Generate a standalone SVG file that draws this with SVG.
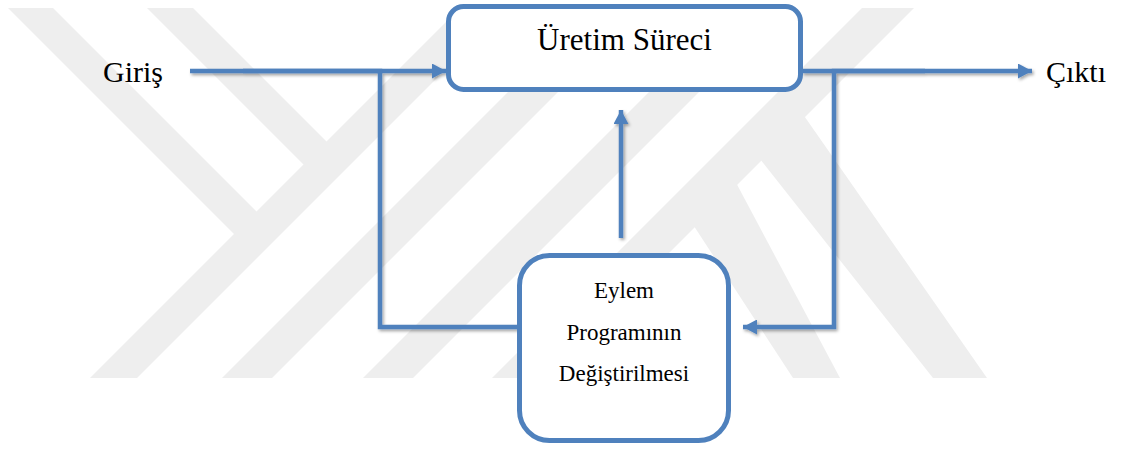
<svg xmlns="http://www.w3.org/2000/svg" width="1123" height="452" viewBox="0 0 1123 452">
  <style>
    .wm { fill: #eeeeee; }
    .box { fill: #ffffff; stroke: #4f81bd; stroke-width: 5; }
    .conn { fill: none; stroke: #4f81bd; stroke-width: 4.5; stroke-linejoin: miter; }
    .lbl { font-family: "Liberation Serif", "Times New Roman", serif; fill: #000000; }
  </style>
  <defs>
    <filter id="shadow" x="-5%" y="-5%" width="110%" height="110%">
      <feDropShadow dx="1.5" dy="2" stdDeviation="1.4" flood-color="#000000" flood-opacity="0.35"/>
    </filter>
    <marker id="arrow" viewBox="0 0 14 15" refX="14" refY="7.5" markerWidth="14" markerHeight="15" markerUnits="userSpaceOnUse" orient="auto">
      <path d="M0,0 L14,7.5 L0,15 Z" fill="#4f81bd"/>
    </marker>
  </defs>
  <rect x="0" y="0" width="1123" height="452" fill="#ffffff"/>
  <g id="watermark">
    <polygon class="wm" points="8,8 53,8 270,225 245,245"/>
    <polygon class="wm" points="147,8 193,8 337.5,152.5 314.5,175.5"/>
    <polygon class="wm" points="460,8 507,8 137,378 90,378"/>
    <polygon class="wm" points="592,8 642,8 272,378 222,378"/>
    <polygon class="wm" points="733,8 783,8 413,378 363,378"/>
    <polygon class="wm" points="862,8 914,8 544,378 492,378"/>
    <polygon class="wm" points="690,220 733,177 840,378 793,378"/>
    <polygon class="wm" points="756,154 800,110 987,378 933,378"/>
  </g>
  <g id="connectors" filter="url(#shadow)">
    <path class="conn" d="M190,71 H446" marker-end="url(#arrow)"/>
    <path class="conn" d="M243,71 H380 V327 H518"/>
    <path class="conn" d="M621,238 V110" marker-end="url(#arrow)"/>
    <path class="conn" d="M802,71 H1032" marker-end="url(#arrow)"/>
    <path class="conn" d="M925,71 H834 V327 H743" marker-end="url(#arrow)"/>
  </g>
  <g id="node-uretim">
    <rect class="box" x="448.5" y="6.5" width="352" height="83" rx="15" ry="15"/>
    <text class="lbl" x="624.5" y="50" font-size="31" text-anchor="middle">Üretim Süreci</text>
  </g>
  <g id="node-eylem">
    <rect class="box" x="519.5" y="255.5" width="209" height="185" rx="30" ry="30"/>
    <text class="lbl" x="624" y="298" font-size="23" text-anchor="middle">Eylem</text>
    <text class="lbl" x="624" y="340" font-size="23" text-anchor="middle">Programının</text>
    <text class="lbl" x="624" y="381" font-size="23" text-anchor="middle">Değiştirilmesi</text>
  </g>
  <g id="node-giris">
    <text class="lbl" x="103" y="82" font-size="30">Giriş</text>
  </g>
  <g id="node-cikti">
    <text class="lbl" x="1046" y="82" font-size="30">Çıktı</text>
  </g>
</svg>
